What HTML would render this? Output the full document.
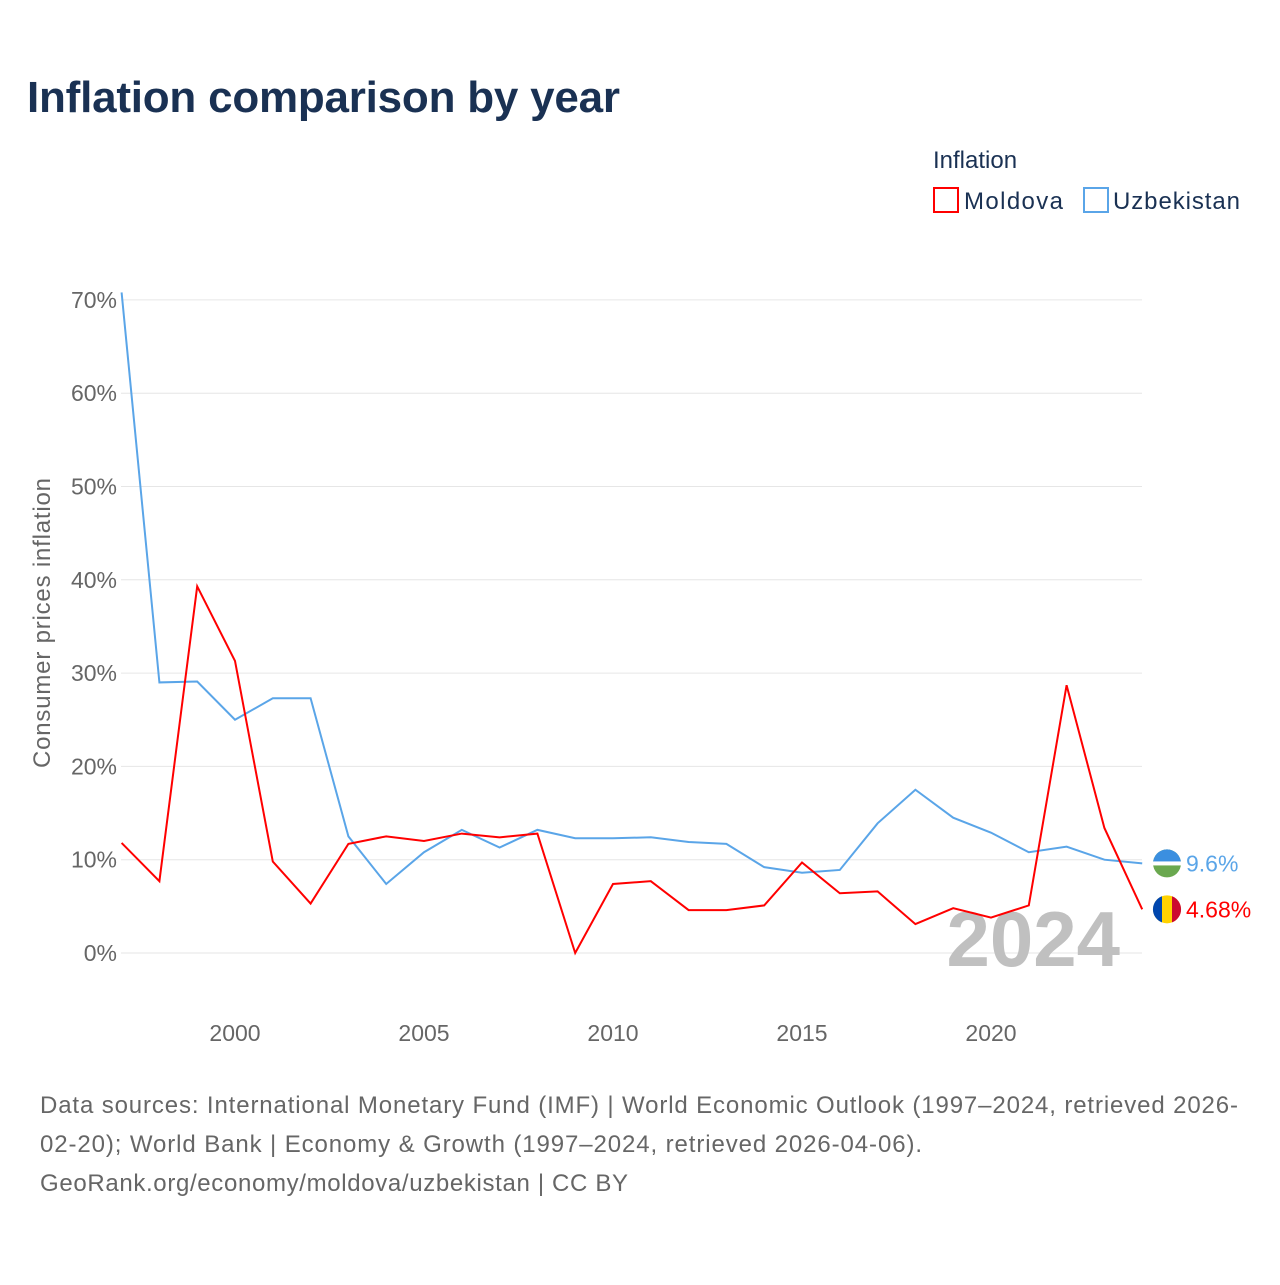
<!DOCTYPE html>
<html><head><meta charset="utf-8"><style>
body{margin:0;background:#fff;font-family:"Liberation Sans",sans-serif;}
</style></head><body>
<svg id="chart" width="1280" height="1280" xmlns="http://www.w3.org/2000/svg">
<rect width="1280" height="1280" fill="#fff"/>
<text x="27" y="112" font-size="44" font-weight="bold" fill="#1a3153" textLength="593">Inflation comparison by year</text>
<text x="933" y="168" font-size="24" fill="#1a3153">Inflation</text>
<g><rect x="934" y="188" width="24" height="24" fill="none" stroke="#f00" stroke-width="2"/><text x="964" y="209" font-size="24" fill="#1a3153" textLength="99">Moldova</text></g>
<g><rect x="1084" y="188" width="24" height="24" fill="none" stroke="#5aa5e8" stroke-width="2"/><text x="1113" y="209" font-size="24" fill="#1a3153" textLength="127">Uzbekistan</text></g>
<g id="grid"></g>
<g id="yticks"></g>
<g id="xticks"></g>
<text transform="translate(50,623) rotate(-90)" text-anchor="middle" font-size="24" fill="#666" textLength="290">Consumer prices inflation</text>
<text x="1120" y="966" text-anchor="end" font-size="78" font-weight="bold" fill="#c0c0c0">2024</text>
<g id="series"></g>
<g font-size="24" fill="#666">
<text x="40" y="1113" textLength="1198">Data sources: International Monetary Fund (IMF) | World Economic Outlook (1997–2024, retrieved 2026-</text>
<text x="40" y="1152" textLength="882">02-20); World Bank | Economy &amp; Growth (1997–2024, retrieved 2026-04-06).</text>
<text x="40" y="1191" textLength="588">GeoRank.org/economy/moldova/uzbekistan | CC BY</text>
</g>
</svg>
<script>
const years=[1997,1998,1999,2000,2001,2002,2003,2004,2005,2006,2007,2008,2009,2010,2011,2012,2013,2014,2015,2016,2017,2018,2019,2020,2021,2022,2023,2024];
const moldova=[11.8,7.7,39.3,31.3,9.8,5.3,11.7,12.5,12.0,12.8,12.4,12.8,0,7.4,7.7,4.6,4.6,5.1,9.7,6.4,6.6,3.1,4.8,3.8,5.1,28.7,13.4,4.68];
const uzbekistan=[70.8,29.0,29.1,25.0,27.3,27.3,12.5,7.4,10.8,13.2,11.3,13.2,12.3,12.3,12.4,11.9,11.7,9.2,8.6,8.9,13.9,17.5,14.5,12.9,10.8,11.4,10.0,9.6];
const yTicks=[0,10,20,30,40,50,60,70];
const xTicks=[2000,2005,2010,2015,2020];
const NS="http://www.w3.org/2000/svg";
const X=y=>121.6+(y-1997)*37.8;
const Y=v=>953-v*9.33;
function mk(tag,attrs,parent){const e=document.createElementNS(NS,tag);for(const k in attrs)e.setAttribute(k,attrs[k]);parent.appendChild(e);return e;}
const grid=document.getElementById('grid'),yt=document.getElementById('yticks'),xt=document.getElementById('xticks'),ser=document.getElementById('series');
yTicks.forEach(v=>{
 const l=mk('line',{x1:121,x2:1142,y1:Y(v),y2:Y(v),stroke:'#e6e6e6','stroke-width':1},grid);
 
 
 const t=mk('text',{x:117,y:Y(v)+8,'text-anchor':'end','font-size':23,fill:'#666'},yt);
 t.textContent=v+'%';
 
 
});
xTicks.forEach(v=>{
 const t=mk('text',{x:X(v),y:1041,'text-anchor':'middle','font-size':23,fill:'#666'},xt);
 t.textContent=v;
 
 
});
function line(data,color,name){
 const p=mk('polyline',{points:data.map((v,i)=>X(years[i])+','+Y(v)).join(' '),fill:'none',stroke:color,'stroke-width':2},ser);
 
 
}
line(uzbekistan,'#5aa5e8','line-uzbekistan');
line(moldova,'#f00','line-moldova');
const lu=uzbekistan[uzbekistan.length-1],lm=moldova[moldova.length-1];
const gu=mk('g',{},ser);


mk('circle',{cx:1167,cy:Y(lu),r:14,fill:'#6aa84f'},gu);
mk('path',{d:`M1153 ${Y(lu)} a14 14 0 0 1 28 0 z`,fill:'#3b8fe0'},gu);
mk('rect',{x:1153,y:Y(lu)-2,width:28,height:4,fill:'#fff'},gu);
const tu=mk('text',{x:1186,y:Y(lu)+8,'font-size':23,fill:'#5aa5e8'},gu);tu.textContent=lu+'%';
const gm=mk('g',{},ser);


mk('circle',{cx:1167,cy:Y(lm),r:14,fill:'#ffd200'},gm);
mk('path',{d:`M1162 ${Y(lm)-13.1} A14 14 0 0 0 1162 ${Y(lm)+13.1} Z`,fill:'#0046ae'},gm);
mk('path',{d:`M1172 ${Y(lm)-13.1} A14 14 0 0 1 1172 ${Y(lm)+13.1} Z`,fill:'#cc092f'},gm);
const tm=mk('text',{x:1186,y:Y(lm)+8,'font-size':23,fill:'#f00'},gm);tm.textContent=lm+'%';
</script>
</body></html>
